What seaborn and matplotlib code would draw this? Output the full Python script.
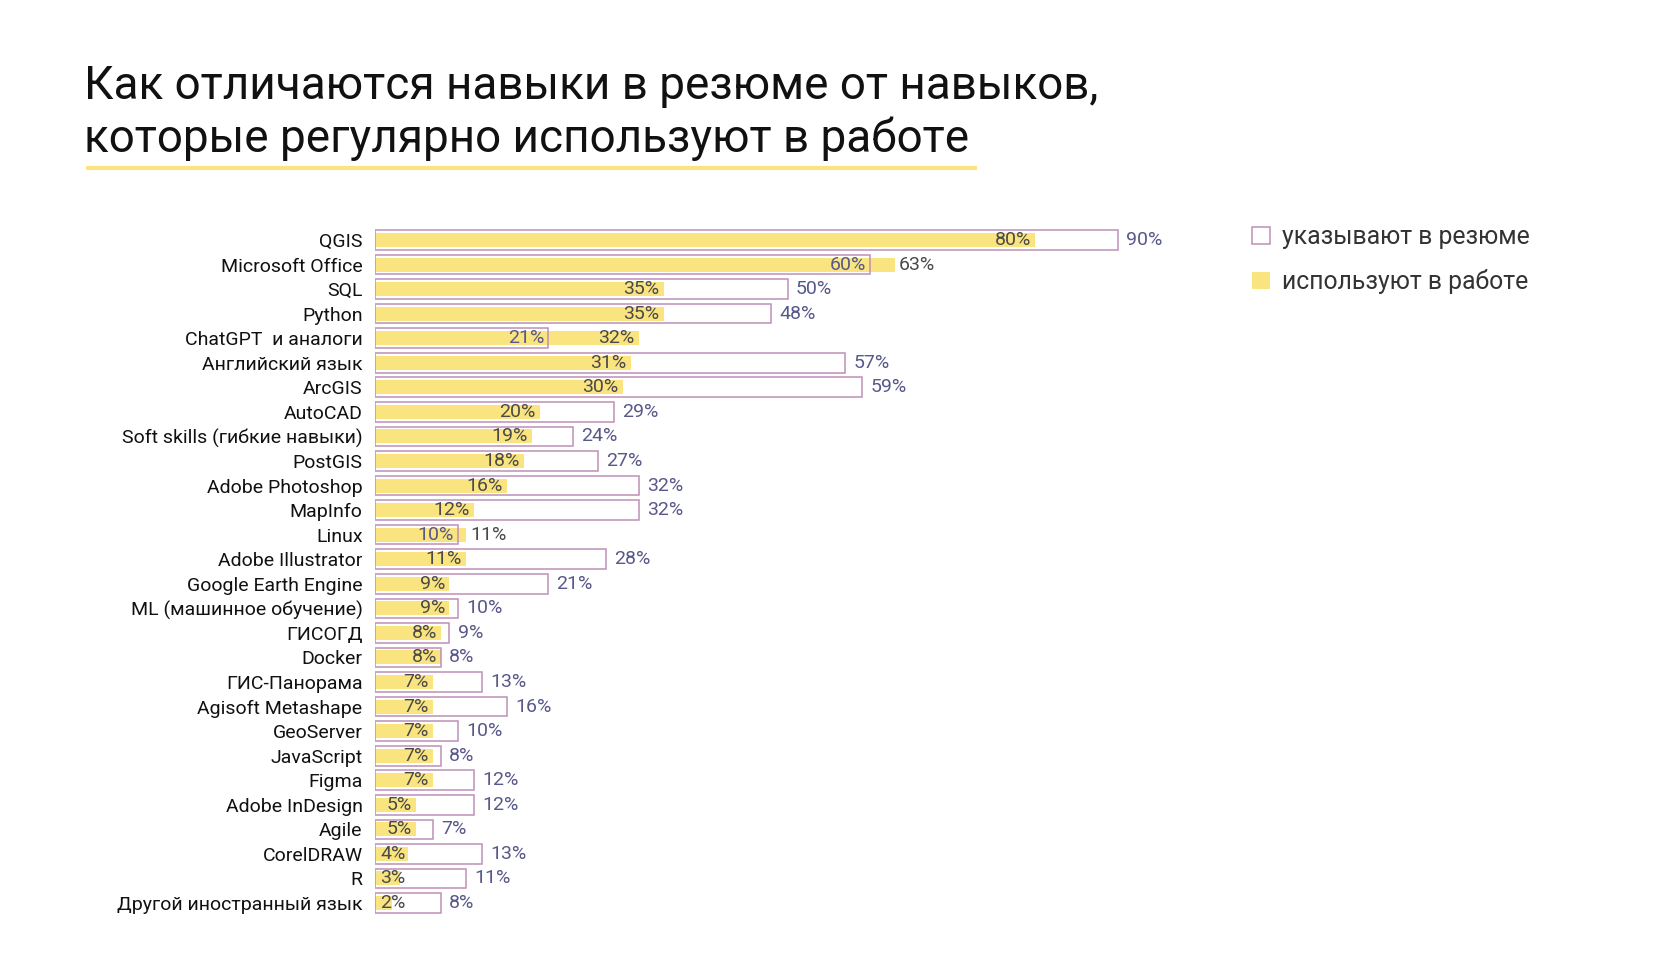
import matplotlib
matplotlib.use("Agg")
import matplotlib.pyplot as plt
from matplotlib.patches import Patch
import seaborn as sns
import pandas as pd

categories = [
    "QGIS", "Microsoft Office", "SQL", "Python", "ChatGPT  и аналоги",
    "Английский язык", "ArcGIS", "AutoCAD", "Soft skills (гибкие навыки)",
    "PostGIS", "Adobe Photoshop", "MapInfo", "Linux", "Adobe Illustrator",
    "Google Earth Engine", "ML (машинное обучение)", "ГИСОГД", "Docker",
    "ГИС-Панорама", "Agisoft Metashape", "GeoServer", "JavaScript", "Figma",
    "Adobe InDesign", "Agile", "CorelDRAW", "R", "Другой иностранный язык",
]
resume = [90, 60, 50, 48, 21, 57, 59, 29, 24, 27, 32, 32, 10, 28, 21, 10, 9, 8,
          13, 16, 10, 8, 12, 12, 7, 13, 11, 8]
work = [80, 63, 35, 35, 32, 31, 30, 20, 19, 18, 16, 12, 11, 11, 9, 9, 8, 8,
        7, 7, 7, 7, 7, 5, 5, 4, 3, 2]
legend_labels = ["указывают в резюме", "используют в работе"]
title_lines = ["Как отличаются навыки в резюме от навыков,",
               "которые регулярно используют в работе"]

YELLOW = "#f9e47f"
MAUVE = "#bf8fb8"
SLATE = "#58588a"
GRAY = "#4a4a4a"

sns.set_theme(style="white")
plt.rcParams["font.family"] = ["Roboto", "DejaVu Sans"]

df = pd.DataFrame({"skill": categories, "resume": resume, "work": work})

W, H = 1680, 976
fig = plt.figure(figsize=(W / 100, H / 100), dpi=100)
fig.patch.set_facecolor("white")

top_px, bot_px = 227.7, 915.3
ax = fig.add_axes([375 / W, 1 - bot_px / H, 825 / W, (bot_px - top_px) / H])

sns.barplot(data=df, y="skill", x="work", color=YELLOW, saturation=1,
            width=0.57, ax=ax, linewidth=0, zorder=2)
sns.barplot(data=df, y="skill", x="resume", color=MAUVE, saturation=1,
            fill=False, width=0.8, ax=ax, linewidth=1.1, zorder=3)

ax.set_xlim(0, 100)
ax.set_ylim(len(categories) - 0.5, -0.5)
for s in ax.spines.values():
    s.set_visible(False)
ax.set_xticks([])
ax.set_xlabel("")
ax.set_ylabel("")
ax.tick_params(axis="y", length=0, pad=9, labelsize=14, labelcolor="#111111")

fs = 14
MIN_IN = 4.2  # keep inner labels from spilling left of the bars


def inside(val, i, color):
    ax.annotate(f"{val}%", (max(val, MIN_IN), i), xytext=(-3, 0),
                textcoords="offset points", ha="right", va="center",
                fontsize=fs, color=color, zorder=5)


def outside(val, i, color, off):
    ax.annotate(f"{val}%", (val, i), xytext=(off, 0), textcoords="offset points",
                ha="left", va="center", fontsize=fs, color=color, zorder=5)


for i, (r, w) in enumerate(zip(resume, work)):
    if w > r:
        inside(r, i, SLATE)
        if w - r < 5:
            outside(w, i, GRAY, 3)
        else:
            inside(w, i, GRAY)
    else:
        inside(w, i, GRAY)
        outside(r, i, SLATE, 6)

# Title
fig.text(84 / W, 1 - 98.6 / H, title_lines[0], fontsize=33, color="#111111",
         va="baseline", ha="left")
fig.text(84 / W, 1 - 152 / H, title_lines[1], fontsize=33, color="#111111",
         va="baseline", ha="left")
fig.add_artist(plt.Line2D([86 / W, 977 / W], [1 - 168 / H, 1 - 168 / H],
                          color=YELLOW, linewidth=3, solid_capstyle="butt"))

# Legend
handles = [Patch(facecolor="white", edgecolor=MAUVE, linewidth=1.1),
           Patch(facecolor=YELLOW, edgecolor=YELLOW, linewidth=0)]
fig.legend(handles, legend_labels, loc="upper left",
           bbox_to_anchor=(1230 / W, 1 - 203 / H), frameon=False,
           fontsize=17.8, labelcolor="#333333", handlelength=0.7,
           handleheight=0.7, handletextpad=0.5, labelspacing=0.8)

fig.savefig("out.png", dpi=100, facecolor="white")
